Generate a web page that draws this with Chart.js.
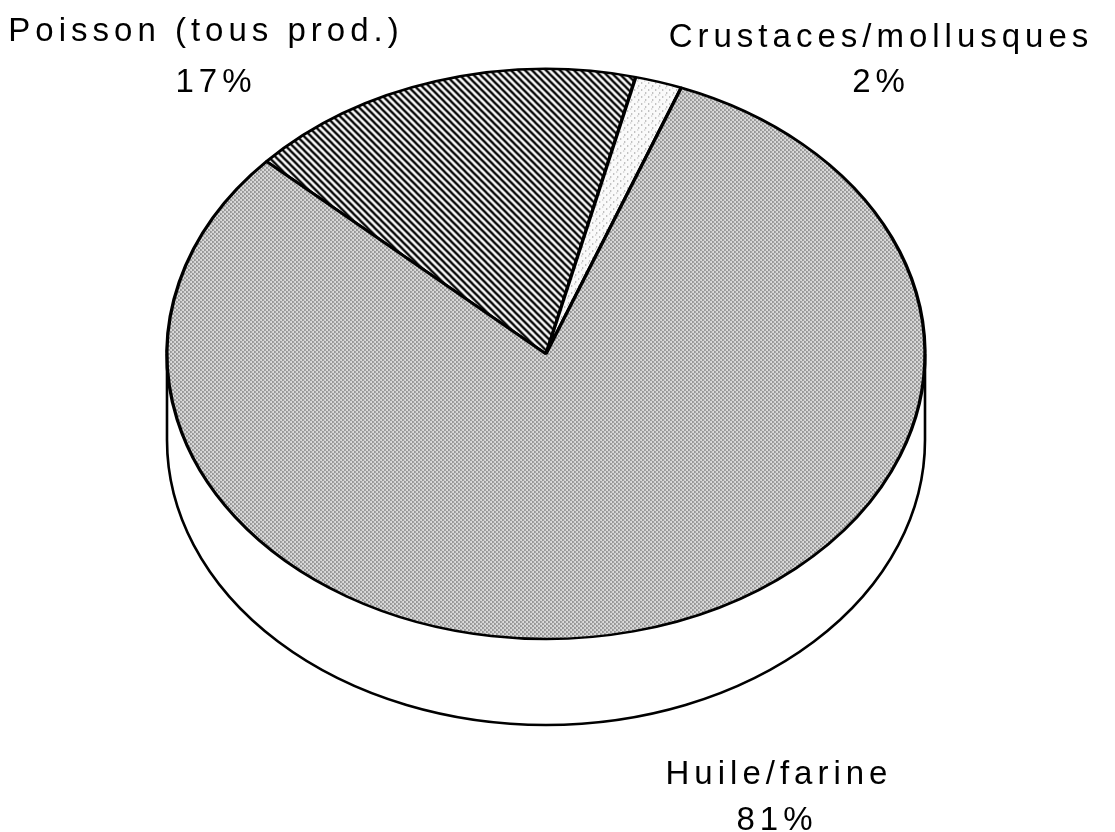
<!DOCTYPE html>
<html>
<head>
<meta charset="utf-8">
<script src="https://cdn.jsdelivr.net/npm/chart.js@4/dist/chart.umd.min.js"></script>
<style>
  html, body { margin: 0; padding: 0; background: #fff; }
  #wrap { width: 1115px; height: 832px; }
</style>
</head>
<body>
<div id="wrap"><canvas id="pie" width="1115" height="832"></canvas></div>
<script>
const categories = ['Poisson (tous prod.)', 'Crustaces/mollusques', 'Huile/farine'];
const shares = [17, 2, 81];

// label blocks: name x, name baseline, percent x, percent baseline
const labelPos = [[206, 41, 216, 92], [881, 47, 881, 92], [779, 784, 777, 830]];

// ellipse of the top face and depth of the side
const cx = 546, cy = 354, rx = 379, ry = 285, depth = 86;

function makePattern(size, draw) {
    const c = document.createElement('canvas');
    c.width = size; c.height = size;
    const g = c.getContext('2d');
    draw(g);
    return document.getElementById('pie').getContext('2d').createPattern(c, 'repeat');
}

const hatch = makePattern(7, g => {
    g.fillStyle = '#fff';
    g.fillRect(0, 0, 7, 7);
    g.strokeStyle = '#000';
    g.lineWidth = 2.3;
    g.beginPath();
    g.moveTo(-1, -1); g.lineTo(8, 8);
    g.moveTo(-8, -1); g.lineTo(1, 8);
    g.moveTo(6, -1); g.lineTo(15, 8);
    g.stroke();
});

const sparse = makePattern(7, g => {
    g.fillStyle = '#fafafa';
    g.fillRect(0, 0, 7, 7);
    g.fillStyle = '#666';
    g.fillRect(1, 2, 1, 1);
    g.fillRect(5, 5, 1, 1);
    g.fillStyle = '#aaa';
    g.fillRect(4, 0, 1, 1);
});

const dots = makePattern(4, g => {
    g.fillStyle = '#dcdcdc';
    g.fillRect(0, 0, 4, 4);
    g.fillStyle = '#222';
    g.fillRect(0, 0, 1, 1);
    g.fillRect(2, 2, 1, 1);
    g.fillStyle = '#888';
    g.fillRect(1, 0, 1, 1);
    g.fillRect(3, 2, 1, 1);
});

const patterns = [hatch, sparse, dots];

const tilt = {
    id: 'tilt',
    beforeDatasetsDraw(chart) {
        const ctx = chart.ctx;
        const arc = chart.getDatasetMeta(0).data[0];
        const sx = rx / arc.outerRadius, sy = ry / arc.outerRadius;

        // side of the disc
        ctx.save();
        ctx.beginPath();
        ctx.moveTo(cx - rx, cy);
        ctx.lineTo(cx - rx, cy + depth);
        ctx.ellipse(cx, cy + depth, rx, ry, 0, Math.PI, 0, true);
        ctx.lineTo(cx + rx, cy);
        ctx.fillStyle = '#fff';
        ctx.fill();
        ctx.lineWidth = 2.6;
        ctx.strokeStyle = '#000';
        ctx.stroke();
        ctx.restore();

        patterns.forEach(p => p.setTransform(new DOMMatrix().scale(1 / sx, 1 / sy)));

        ctx.save();
        ctx.translate(cx, cy);
        ctx.scale(sx, sy);
        ctx.translate(-arc.x, -arc.y);
    },
    afterDatasetsDraw(chart) {
        chart.ctx.restore();
    },
    afterDraw(chart) {
        const ctx = chart.ctx;
        ctx.save();
        ctx.fillStyle = '#000';
        ctx.font = '33px "Liberation Sans", Arial, sans-serif';
        ctx.letterSpacing = '5px';
        ctx.textAlign = 'center';
        ctx.textBaseline = 'alphabetic';
        categories.forEach((name, i) => {
            const [x1, y1, x2, y2] = labelPos[i];
            ctx.fillText(name, x1, y1);
            ctx.fillText(shares[i] + '%', x2, y2);
        });
        ctx.restore();
    }
};

new Chart(document.getElementById('pie'), {
    type: 'pie',
    data: {
        labels: categories,
        datasets: [{
            data: shares,
            backgroundColor: patterns,
            borderColor: '#000',
            borderWidth: 3.4
        }]
    },
    options: {
        responsive: false,
        animation: false,
        rotation: -47.5,
        layout: { padding: 30 },
        plugins: {
            legend: { display: false },
            tooltip: { enabled: false }
        }
    },
    plugins: [tilt]
});
</script>
</body>
</html>
